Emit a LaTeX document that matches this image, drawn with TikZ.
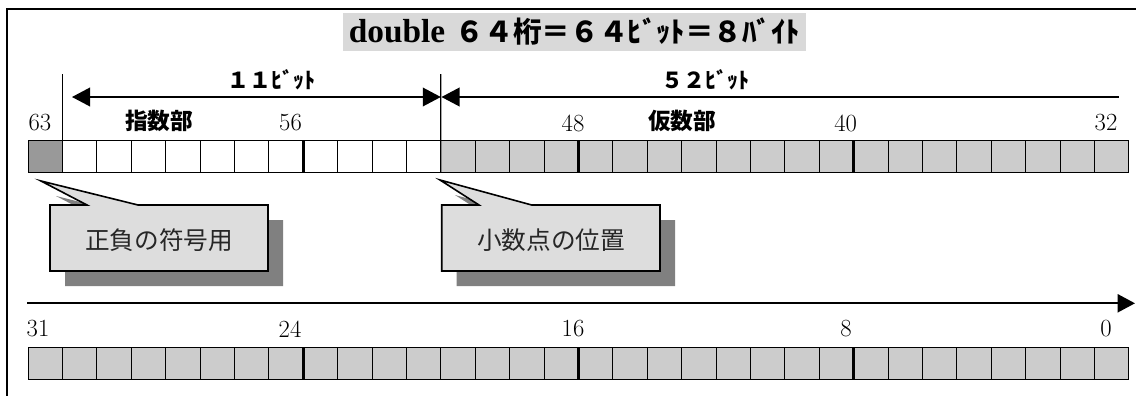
\documentclass[tikz,border=0pt]{standalone}
\usepackage{fontspec}
\newfontfamily\jp{Noto Sans CJK JP}
\newfontfamily\tms{Liberation Serif}
\usetikzlibrary{arrows.meta}
\definecolor{cellgray}{HTML}{CCCCCC}
\definecolor{signgray}{HTML}{999999}
\definecolor{titlegray}{HTML}{D9D9D9}
\definecolor{callfill}{HTML}{DDDDDD}
\definecolor{shadowgray}{HTML}{808080}
\tikzset{
  cell/.style={draw=black, line width=0.75pt, minimum width=25.8pt, minimum height=24pt, inner sep=0pt, outer sep=0pt},
  thickline/.style={line width=2.4pt},
  vline/.style={line width=1pt},
  dimarrow/.style={line width=1.1pt, {Triangle[length=13.5pt,width=14pt]}-{Triangle[length=13.5pt,width=14pt]}},
  dimleft/.style={line width=1.1pt, {Triangle[length=13.5pt,width=14pt]}-},
  axisarrow/.style={line width=1.6pt, -{Triangle[length=13pt,width=13.5pt]}},
  num/.style={inner sep=0pt, font=\fontsize{18.5pt}{20pt}\selectfont},
  bitlbl/.style={inner sep=0pt, font=\jp\bfseries\fontsize{16.5pt}{18pt}\selectfont},
  partlbl/.style={inner sep=0pt, font=\jp\bfseries\fontsize{17pt}{19pt}\selectfont},
  calltext/.style={inner sep=0pt, font=\jp\fontsize{18.5pt}{20pt}\selectfont, text=black!85},
  callbody/.style={draw=black, line width=1.2pt, fill=callfill, line join=miter},
  callshadow/.style={fill=shadowgray, draw=none},
  frame/.style={line width=1.5pt}
}
\begin{document}
\begin{tikzpicture}[x=0.75pt,y=-0.75pt]
\useasboundingbox (0,0) rectangle (1136,396);
% frame
\coordinate (fTL) at (7,9);
\coordinate (fTR) at (1136,9);
\coordinate (fBL) at (7,396);
\draw[frame] (fTR) -- (fTL) -- (fBL);
% title
\node[fill=titlegray, minimum width=347.5pt, minimum height=28.5pt, inner sep=0pt] (title) at (574.4,32)
  {{\tms\bfseries\fontsize{25pt}{28pt}\selectfont double}\hspace{8pt}{\jp\bfseries\fontsize{21.5pt}{27pt}\selectfont ６４桁＝６４ﾋﾞｯﾄ＝８ﾊﾞｲﾄ}};
% top row cells
\node[cell, fill=signgray] (t0) at ({28+17.2},156) {};
\foreach \i in {1,...,11} \node[cell, fill=white] (t\i) at ({28+\i*34.4+17.2},156) {};
\foreach \i in {12,...,31} \node[cell, fill=cellgray] (t\i) at ({28+\i*34.4+17.2},156) {};
% bottom row cells
\foreach \i in {0,...,31} \node[cell, fill=cellgray] (b\i) at ({28+\i*34.4+17.2},363) {};
% byte boundaries
\foreach \i in {7,15,23} {
  \draw[thickline] (t\i.north east) -- (t\i.south east);
  \draw[thickline] (b\i.north east) -- (b\i.south east);
}
% vertical marker lines
\coordinate (v1top) at (62.4,74);
\coordinate (v2top) at (440.8,74);
\draw[vline] (v1top) -- (t1.north west);
\draw[vline] (v2top) -- (t12.south west);
% dimension arrows
\coordinate (a1L) at (72,97);
\coordinate (a1R) at (440.8,97);
\coordinate (a2L) at (441.5,97);
\coordinate (a2R) at (1119,97);
\draw[dimarrow] (a1L) -- (a1R);
\draw[dimleft] (a2L) -- (a2R);
\node[bitlbl] (l11) at (271,80) {１１ﾋﾞｯﾄ};
\node[bitlbl] (l52) at (705,80) {５２ﾋﾞｯﾄ};
\node[partlbl] (exp) at (159,121) {指数部};
\node[partlbl] (man) at (682,121) {仮数部};
% bit numbers top
\node[num] (n63) at (40,123) {63};
\node[num] (n56) at (290.5,123) {56};
\node[num] (n48) at (573,123) {48};
\node[num] (n40) at (845.7,123) {40};
\node[num] (n32) at (1106,123) {32};
% axis arrow
\coordinate (axL) at (27,303.3);
\coordinate (axR) at (1135,303.3);
\draw[axisarrow] (axL) -- (axR);
% bit numbers bottom
\node[num] (n31) at (38,329) {31};
\node[num] (n24) at (290,329) {24};
\node[num] (n16) at (573,329) {16};
\node[num] (n8) at (846,329) {8};
\node[num] (n0) at (1106,329) {0};
% callout 1
\fill[callshadow, shift={(15,15)}] (50,205) -- (87,205) -- (41,181) -- (138,205) -- (268,205) -- (268,271) -- (50,271) -- cycle;
\draw[callbody] (50,205) -- (87,205) -- (41,181) -- (138,205) -- (268,205) -- (268,271) -- (50,271) -- cycle;
\node[calltext] (c1) at (159,240) {正負の符号用};
% callout 2
\fill[callshadow, shift={(15,15)}] (441.7,205) -- (479,205) -- (440,180) -- (531.7,205) -- (660,205) -- (660,271) -- (441.7,271) -- cycle;
\draw[callbody] (441.7,205) -- (479,205) -- (440,180) -- (531.7,205) -- (660,205) -- (660,271) -- (441.7,271) -- cycle;
\node[calltext] (c2) at (551,240) {小数点の位置};
\end{tikzpicture}
\end{document}
